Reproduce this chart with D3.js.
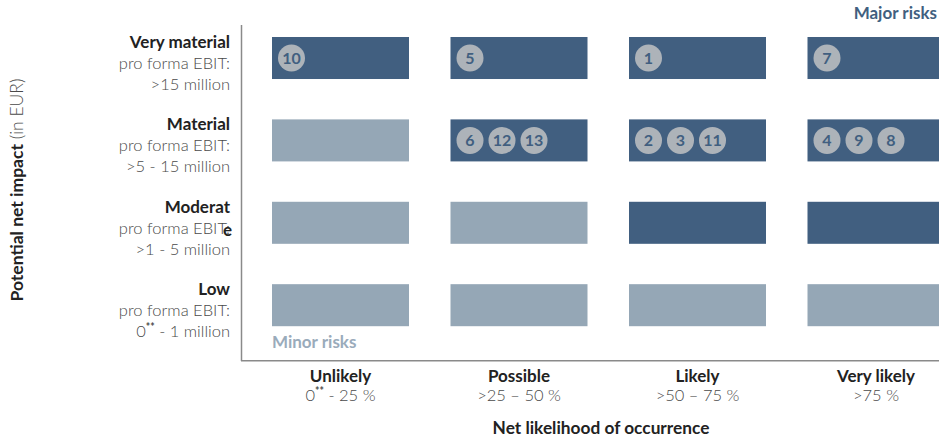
<!DOCTYPE html>
<html>
<head>
<meta charset="utf-8">
<script src="https://cdn.jsdelivr.net/npm/d3@7"></script>
<style>
  html, body { margin: 0; padding: 0; background: #fff; }
  svg { display: block; font-family: Lato, "Source Sans Pro", "Noto Sans", sans-serif; }
</style>
</head>
<body>
<svg id="chart" width="939" height="440"></svg>
<script>
// ---- data ----
const likelihood = ["Unlikely", "Possible", "Likely", "Very likely"];
const likelihoodRangeMain = ["0", ">25 – 50 %", ">50 – 75 %", ">75 %"];
const likelihoodRangeSup = ["**", "", "", ""];
const likelihoodRangeRest = [" - 25 %", "", "", ""];
const impact = ["Very material", "Material", "Moderate", "Low"];
const impactTitleLines = [["Very material"], ["Material"], ["Moderat", "e"], ["Low"]];
const impactRangePre = ["", "", "", "0"];
const impactRangeSup = ["", "", "", "**"];
const impactRangeRest = [">15 million", ">5 - 15 million", ">1 - 5 million", " - 1 million"];
// 1 = major risk cell (dark), 0 = minor (light); rows follow impact, columns follow likelihood
const majorMatrix = [
  [1, 1, 1, 1],
  [0, 1, 1, 1],
  [0, 0, 1, 1],
  [0, 0, 0, 0]
];
const riskIds        = [10, 5, 1, 7, 6, 12, 13, 2, 3, 11, 4, 9, 8];
const riskLikelihood = ["Unlikely", "Possible", "Likely", "Very likely", "Possible", "Possible", "Possible", "Likely", "Likely", "Likely", "Very likely", "Very likely", "Very likely"];
const riskImpact     = ["Very material", "Very material", "Very material", "Very material", "Material", "Material", "Material", "Material", "Material", "Material", "Material", "Material", "Material"];

// ---- styles ----
const DARK = "#415f80", LIGHT = "#95a7b6", BUBBLE = "#adb3b9", AXIS = "#8a8a8a";
const TXT = "#222", SUB = "#4a4a4a";
const FB = 17, FS = 16.5;

const svg = d3.select("#chart");

const x = d3.scaleBand().domain(likelihood).range([272, 944.5]).paddingInner(0.2325).paddingOuter(0);
const y = d3.scaleBand().domain(impact).range([37, 326.2]).paddingInner(0.49).paddingOuter(0);

// cells
const cells = [];
impact.forEach((im, r) => likelihood.forEach((lk, c) => cells.push({im, lk, major: majorMatrix[r][c]})));
svg.append("g").selectAll("rect").data(cells).join("rect")
  .attr("x", d => x(d.lk)).attr("y", d => y(d.im))
  .attr("width", x.bandwidth()).attr("height", y.bandwidth())
  .attr("fill", d => d.major ? DARK : LIGHT);

// bubbles
const risks = riskIds.map((id, i) => ({id, lk: riskLikelihood[i], im: riskImpact[i]}));
const slot = {};
risks.forEach(d => { const k = d.lk + "|" + d.im; d.slot = slot[k] = (slot[k] === undefined ? 0 : slot[k] + 1); });
const bg = svg.append("g").selectAll("g").data(risks).join("g")
  .attr("transform", d => `translate(${x(d.lk) + 19.5 + d.slot * 32},${y(d.im) + y.bandwidth() / 2})`);
bg.append("circle").attr("r", 13.5).attr("fill", BUBBLE);
bg.append("text").text(d => d.id).attr("text-anchor", "middle").attr("dy", "0.36em")
  .attr("font-size", 16).attr("font-weight", 700).attr("fill", DARK);

// axes lines
svg.append("line").attr("x1", 241.5).attr("x2", 241.5).attr("y1", 25).attr("y2", 361)
  .attr("stroke", AXIS).attr("stroke-width", 1.5);
svg.append("line").attr("x1", 241).attr("x2", 939).attr("y1", 360.75).attr("y2", 360.75)
  .attr("stroke", AXIS).attr("stroke-width", 1.5);

// y labels
const yl = svg.append("g").selectAll("g").data(impact).join("g")
  .attr("transform", d => `translate(230,${y(d) + y.bandwidth() / 2})`);
yl.each(function(d, i) {
  const g = d3.select(this);
  const lines = impactTitleLines[i];
  g.append("text").attr("y", -10).attr("text-anchor", "end")
    .attr("font-size", FB).attr("font-weight", 700).attr("fill", TXT).text(lines[0]);
  g.append("text").attr("y", 11).attr("text-anchor", "end")
    .attr("font-size", FS).attr("font-weight", 300).attr("fill", SUB).text("pro forma EBIT:");
  if (lines[1]) {
    g.append("text").attr("x", 2).attr("y", 13).attr("text-anchor", "end")
      .attr("font-size", FB).attr("font-weight", 700).attr("fill", TXT).text(lines[1]);
  }
  const t = g.append("text").attr("y", 32).attr("text-anchor", "end")
    .attr("font-size", FS).attr("font-weight", 300).attr("fill", SUB);
  if (impactRangePre[i]) t.append("tspan").text(impactRangePre[i]);
  if (impactRangeSup[i]) t.append("tspan").attr("dy", -6).attr("font-size", 10.5).attr("font-weight", 700).text(impactRangeSup[i]);
  t.append("tspan").attr("dy", impactRangeSup[i] ? 6 : 0).text(impactRangeRest[i]);
});

// x labels
const xl = svg.append("g").selectAll("g").data(likelihood).join("g")
  .attr("transform", d => `translate(${x(d) + x.bandwidth() / 2},0)`);
xl.append("text").attr("y", 382).attr("text-anchor", "middle")
  .attr("font-size", FB).attr("font-weight", 700).attr("fill", TXT).text(d => d);
xl.each(function(d, i) {
  const t = d3.select(this).append("text").attr("y", 401).attr("text-anchor", "middle")
    .attr("font-size", FS).attr("font-weight", 300).attr("fill", SUB);
  t.append("tspan").text(likelihoodRangeMain[i]);
  if (likelihoodRangeSup[i]) t.append("tspan").attr("dy", -6).attr("font-size", 10.5).attr("font-weight", 700).text(likelihoodRangeSup[i]);
  if (likelihoodRangeRest[i]) t.append("tspan").attr("dy", 6).text(likelihoodRangeRest[i]);
});

// axis titles
svg.append("text").attr("x", 601).attr("y", 434).attr("text-anchor", "middle")
  .attr("font-size", 17.3).attr("font-weight", 700).attr("fill", TXT).text("Net likelihood of occurrence");
const yt = svg.append("text").attr("transform", "translate(23,190) rotate(-90)").attr("text-anchor", "middle")
  .attr("font-size", 17.5).attr("fill", TXT);
yt.append("tspan").attr("font-weight", 700).text("Potential net impact");
yt.append("tspan").attr("font-weight", 300).attr("fill", SUB).text(" (in EUR)");

// risk zone labels
svg.append("text").attr("x", 937).attr("y", 19).attr("text-anchor", "end")
  .attr("font-size", FB).attr("font-weight", 700).attr("fill", DARK).text("Major risks");
svg.append("text").attr("x", 272).attr("y", 348)
  .attr("font-size", FB).attr("font-weight", 700).attr("fill", "#9aabbb").text("Minor risks");
</script>
</body>
</html>
